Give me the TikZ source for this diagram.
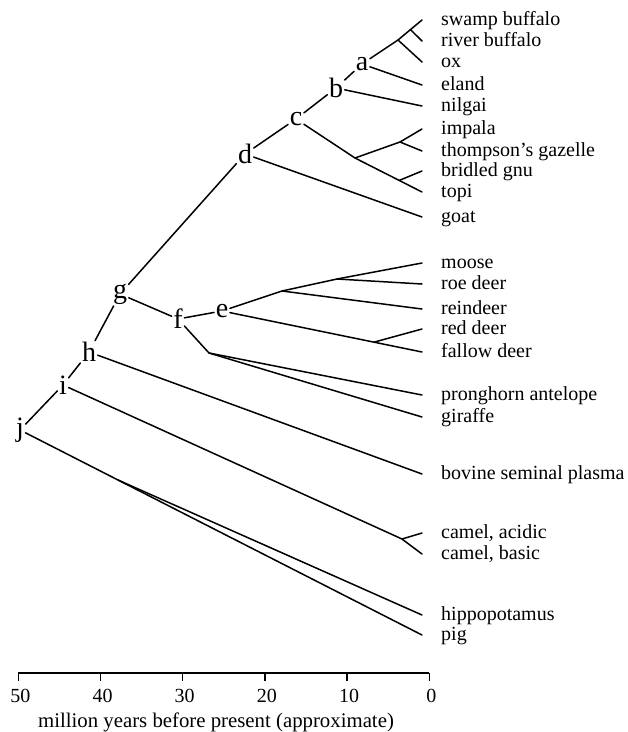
\documentclass[tikz,border=0pt]{standalone}
\usepackage{fontspec}
\setmainfont{Liberation Serif}
\usetikzlibrary{calc}
\begin{document}
\begin{tikzpicture}[x=1pt,y=-1pt,
  branch/.style={line width=1.5pt, line cap=round, line join=round},
  clade/.style={font=\fontsize{28}{28}\selectfont, inner sep=1.5pt},
  leaf/.style={font=\fontsize{20}{20}\selectfont, anchor=west, inner sep=0pt,
               text height=10pt, text depth=0pt},
  ticklabel/.style={font=\fontsize{20}{20}\selectfont, anchor=base, inner sep=0pt},
  axistitle/.style={font=\fontsize{20.8}{20.8}\selectfont, anchor=base, inner sep=0pt}]
\useasboundingbox (0,0) rectangle (628,732);

% ---- leaf tips and their names
\foreach \nm/\yy/\txt in {
  swamp/20/swamp buffalo, river/41/river buffalo, ox/62/ox, eland/85/eland,
  nilgai/106/nilgai, impala/129/impala, thomson/151/thompson's gazelle,
  gnu/171/bridled gnu, topi/192/topi, goat/217/goat,
  moose/263/moose, roe/284/roe deer, reindeer/309/reindeer,
  red/329/red deer, fallow/352/fallow deer,
  pronghorn/395/pronghorn antelope, giraffe/417/giraffe,
  bsp/474/bovine seminal plasma,
  camA/533/{camel, acidic}, camB/554/{camel, basic},
  hippo/615/hippopotamus, pig/635/pig} {
  \coordinate (t-\nm) at (422,\yy);
  \node[leaf] (l-\nm) at (441,\yy) {\txt};
}

% ---- labelled ancestral nodes
\node[clade] (a) at (362,64)  {a};
\node[clade] (b) at (336,88)  {b};
\node[clade] (c) at (296,119) {c};
\node[clade] (d) at (245,154) {d};
\node[clade] (e) at (222,311) {e};
\node[clade] (f) at (178,319) {f};
\node[clade] (g) at (120,294) {g};
\node[clade] (h) at (89,352)  {h};
\node[clade] (i) at (63,385)  {i};
\node[clade] (j) at (20,430)  {j};

% ---- unlabelled branch points
\coordinate (bos)    at (398,40);
\coordinate (bubal)  at ($(bos)!0.52!(t-swamp)$);
\coordinate (antel)  at (355,158);
\coordinate (gaz)    at (400,142);
\coordinate (alc)    at ($(antel)!0.66!(t-topi)$);
\coordinate (cerA)   at (282,291);
\coordinate (cerB)   at (337,279);
\coordinate (cerv)   at ($(e)!0.76!(t-fallow)$);
\coordinate (giraf)  at (209,353);
\coordinate (camel)  at (402,539);
\coordinate (suid)   at (118,480);

% ---- branches
\draw[branch] (a) -- (bos) -- (t-ox);
\draw[branch] (bos) -- (bubal) -- (t-swamp);
\draw[branch] (bubal) -- (t-river);
\draw[branch] (a) -- (t-eland);
\draw[branch] (b) -- (a);
\draw[branch] (b) -- (t-nilgai);
\draw[branch] (c) -- (b);
\draw[branch] (c) -- (antel) -- (gaz) -- (t-impala);
\draw[branch] (gaz) -- (t-thomson);
\draw[branch] (antel) -- (alc) -- (t-topi);
\draw[branch] (alc) -- (t-gnu);
\draw[branch] (d) -- (c);
\draw[branch] (d) -- (t-goat);
\draw[branch] (g) -- (d);
\draw[branch] (g) -- (f);
\draw[branch] (f) -- (e);
\draw[branch] (e) -- (cerA) -- (t-reindeer);
\draw[branch] (cerA) -- (cerB) -- (t-moose);
\draw[branch] (cerB) -- (t-roe);
\draw[branch] (e) -- (cerv) -- (t-fallow);
\draw[branch] (cerv) -- (t-red);
\draw[branch] (f) -- (giraf) -- (t-pronghorn);
\draw[branch] (giraf) -- (t-giraffe);
\draw[branch] (h) -- (g);
\draw[branch] (h) -- (t-bsp);
\draw[branch] (i) -- (h);
\draw[branch] (i) -- (camel) -- (t-camA);
\draw[branch] (camel) -- (t-camB);
\draw[branch] (j) -- (i);
\draw[branch] (j) -- (suid) -- (t-pig);
\draw[branch] (suid) -- (t-hippo);

% ---- time axis
\coordinate (ax0) at (18.3,673);
\coordinate (ax1) at (429.3,673);
\draw[branch, line cap=butt] (ax0) -- (ax1);
\foreach \k in {0,...,5} {
  \pgfmathsetmacro{\xx}{18.3+\k*82.2}
  \pgfmathtruncatemacro{\lab}{50-10*\k}
  \coordinate (tk\k) at (\xx,673);
  \draw[branch, line cap=butt] (tk\k) -- ++(0,8);
  \node[ticklabel] (n\k) at (\xx+2,702) {\lab};
}
\node[axistitle] (title) at (216,727) {million years before present (approximate)};
\end{tikzpicture}
\end{document}
